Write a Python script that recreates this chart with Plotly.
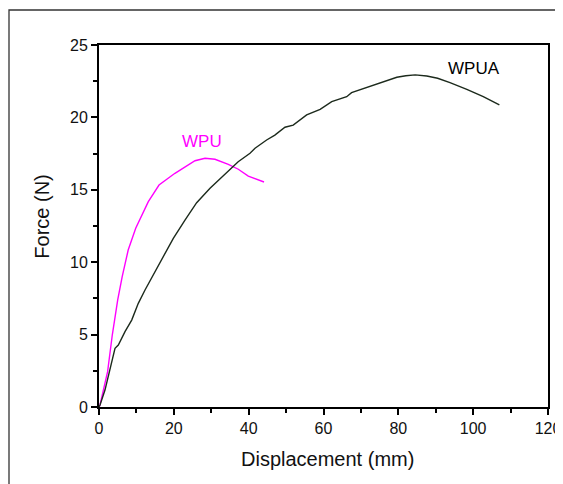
import plotly.graph_objects as go

# WPU (magenta) curve: displacement (mm), force (N)
wpu_x = [0, 0.27, 1.2, 2.3, 3.55, 5.0, 6.2, 7.14, 7.8, 9.81, 13.18, 16.04, 20.3, 25.66, 28.33, 31.0, 34.56, 37.23, 39.9, 44.1]
wpu_y = [0, 0.14, 1.2, 2.44, 4.97, 7.39, 9.0, 10.15, 10.84, 12.34, 14.18, 15.33, 16.14, 17.01, 17.18, 17.11, 16.76, 16.42, 15.95, 15.54]

# WPUA (black) curve
wpua_x = [0, 0.27, 1.6, 2.94, 4.28, 5.16, 6.95, 8.74, 10.5, 12.3, 14.5, 16.76, 18.1, 19.86, 22.98, 26.1, 29.67, 33.2,
          37.2, 40.36, 41.7, 44.8, 47.0, 49.7, 51.9, 55.5, 59.1, 62.2, 66.2, 67.5, 71.5, 76.0, 79.6, 82.0, 84.5,
          87.6, 90.5, 93.8, 98.3, 102.7, 107.0]
wpua_y = [0, 0.14, 1.17, 2.56, 4.05, 4.28, 5.2, 6.0, 7.16, 8.08, 9.12, 10.15, 10.84, 11.65, 12.91, 14.11, 15.1, 15.95,
          16.94, 17.52, 17.87, 18.44, 18.78, 19.32, 19.47, 20.17, 20.56, 21.09, 21.43, 21.71, 22.05, 22.42, 22.77, 22.88, 22.94,
          22.86, 22.7, 22.4, 21.94, 21.43, 20.86]

series_names = ["WPU", "WPUA"]
label_pos = {"WPU": (27.5, 18.32), "WPUA": (100.2, 23.39)}

x_ticks = [0, 20, 40, 60, 80, 100, 120]
y_ticks = [0, 5, 10, 15, 20, 25]

x_title = "Displacement (mm)"
y_title = "Force (N)"

colors = {"WPU": "#ff00ff", "WPUA": "#1c2a1c"}
FONT = "Liberation Sans, Arial, sans-serif"

fig = go.Figure()
fig.add_trace(go.Scatter(x=wpu_x, y=wpu_y, mode="lines", name="WPU",
                         line=dict(color=colors["WPU"], width=1.4)))
fig.add_trace(go.Scatter(x=wpua_x, y=wpua_y, mode="lines", name="WPUA",
                         line=dict(color=colors["WPUA"], width=1.4)))

for name in series_names:
    lx, ly = label_pos[name]
    fig.add_annotation(x=lx, y=ly, text=name, showarrow=False,
                       font=dict(family=FONT, size=17, color=colors[name] if name == "WPU" else "#000"))

# axis titles
fig.add_annotation(xref="paper", yref="paper", x=0.508, y=-0.1436, text=x_title, showarrow=False,
                   xanchor="center", yanchor="middle", font=dict(family=FONT, size=20, color="#111"))
fig.add_annotation(xref="paper", yref="paper", x=-0.127, y=0.5257, text=y_title, showarrow=False, textangle=-90,
                   xanchor="center", yanchor="middle", font=dict(family=FONT, size=20, color="#111"))

axis_common = dict(
    showline=True, linecolor="#000", linewidth=1.8, mirror=True,
    ticks="outside", ticklen=6, tickwidth=1.5, tickcolor="#000",
    showgrid=False, zeroline=False,
    tickfont=dict(family=FONT, size=16, color="#111"),
    automargin=False,
)

fig.update_xaxes(range=[0, 120], tickvals=x_ticks, ticktext=[str(v) for v in x_ticks],
                 minor=dict(dtick=10, tick0=0, ticks="outside", ticklen=4, tickwidth=1.5, tickcolor="#000"),
                 **axis_common)
fig.update_yaxes(range=[0, 25], tickvals=y_ticks, ticktext=[str(v) for v in y_ticks],
                 minor=dict(dtick=2.5, tick0=0, ticks="outside", ticklen=4, tickwidth=1.5, tickcolor="#000"),
                 **axis_common)

# outer frame of the original figure (extends past right/bottom edges)
fig.add_shape(type="rect", xref="paper", yref="paper",
              x0=(9 - 99) / 449, x1=(575 - 99) / 449, y0=(407 - 495) / 362, y1=(407 - 10) / 362,
              line=dict(color="#333", width=1.3), fillcolor="rgba(0,0,0,0)", layer="below")

# the page body has an 8px margin, so the figure is sized/offset to compensate
fig.update_layout(
    width=555, height=476,
    margin=dict(l=91, r=15, t=37, b=77),
    plot_bgcolor="white", paper_bgcolor="white",
    showlegend=False,
)

fig.write_html("out.html")
